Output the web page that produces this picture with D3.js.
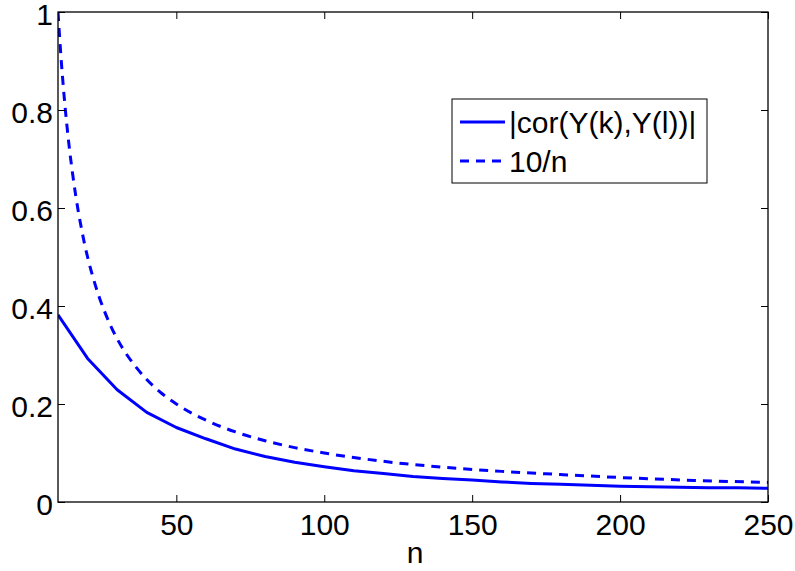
<!DOCTYPE html>
<html><head><meta charset="utf-8">
<script src="https://cdn.jsdelivr.net/npm/d3@7"></script>
<style>html,body{margin:0;padding:0;background:#fff;}svg{display:block;font-family:"Liberation Sans",Arial,Helvetica,sans-serif;}</style>
</head><body>
<script>
// n values for the |cor| series
const nCor = [10,20,30,40,50,60,70,80,90,100,110,120,130,140,150,160,170,180,190,200,210,220,230,240,250];
const corValues = [0.382,0.293,0.229,0.183,0.152,0.129,0.108,0.093,0.081,0.072,0.064,0.058,0.052,0.048,0.045,0.041,0.038,0.036,0.034,0.032,0.031,0.030,0.029,0.029,0.028];
// n values for the 10/n series
const nRef = [10,11,12,13,14,15,16,17,18,19,20,22,24,26,28,30,33,36,40,45,50,60,70,80,90,100,120,140,160,180,200,225,250];
const refValues = [1,0.909,0.833,0.769,0.714,0.667,0.625,0.588,0.556,0.526,0.5,0.455,0.417,0.385,0.357,0.333,0.303,0.278,0.25,0.222,0.2,0.167,0.143,0.125,0.111,0.1,0.083,0.071,0.0625,0.056,0.05,0.044,0.04];
const xTicks = [50,100,150,200,250];
const yTicks = [0,0.2,0.4,0.6,0.8,1];
const yTickLabels = ["0","0.2","0.4","0.6","0.8","1"];
const legendLabels = ["|cor(Y(k),Y(l))|","10/n"];
const xLabel = "n";

const W = 795, H = 571;
const L = 58, R = 768, T = 12, B = 502;
const svg = d3.select("body").append("svg").attr("width", W).attr("height", H);
const x = d3.scaleLinear().domain([10,250]).range([L,R]);
const y = d3.scaleLinear().domain([0,1]).range([B,T]);
const FS = 30;

svg.append("clipPath").attr("id","clip").append("rect").attr("x",L).attr("y",T).attr("width",R-L).attr("height",B-T);

const g = svg.append("g").attr("clip-path","url(#clip)");
g.append("path").datum(nRef.map((n,i)=>[n,refValues[i]]))
  .attr("d", d3.line().x(d=>x(d[0])).y(d=>y(d[1])).curve(d3.curveMonotoneX))
  .attr("fill","none").attr("stroke","#0000ff").attr("stroke-width",3).attr("stroke-dasharray","9,7");
g.append("path").datum(nCor.map((n,i)=>[n,corValues[i]]))
  .attr("d", d3.line().x(d=>x(d[0])).y(d=>y(d[1])))
  .attr("fill","none").attr("stroke","#0000ff").attr("stroke-width",3).attr("stroke-linejoin","round");

// axes with inward ticks
const tl = 7;
const axB = svg.append("g").attr("transform",`translate(0,${B})`)
  .call(d3.axisBottom(x).tickValues(xTicks).tickSize(-tl).tickPadding(12).tickFormat(d3.format("d")));
const axT = svg.append("g").attr("transform",`translate(0,${T})`)
  .call(d3.axisTop(x).tickValues(xTicks).tickSize(-tl).tickFormat(""));
const axL = svg.append("g").attr("transform",`translate(${L},0)`)
  .call(d3.axisLeft(y).tickValues(yTicks).tickSize(-tl).tickPadding(5).tickFormat((d,i)=>yTickLabels[i]));
const axR = svg.append("g").attr("transform",`translate(${R},0)`)
  .call(d3.axisRight(y).tickValues(yTicks).tickSize(-tl).tickFormat(""));
[axB,axT,axL,axR].forEach(a=>{
  a.select(".domain").remove();
  a.selectAll("line").attr("stroke","#000").attr("stroke-width",1);
  a.selectAll("text").attr("fill","#000").style("font-size",FS+"px").style("font-family","'Liberation Sans',Arial,sans-serif");
});
axB.selectAll("text").attr("dy","0.71em");
axL.selectAll("text").attr("dy","0.4em");
svg.append("rect").attr("x",L).attr("y",T).attr("width",R-L).attr("height",B-T)
  .attr("fill","none").attr("stroke","#000").attr("stroke-width",1.3);

svg.append("text").attr("x",(L+R)/2 + 2).attr("y",563).attr("text-anchor","middle")
  .style("font-size",FS+"px").text(xLabel);

// legend
const lg = svg.append("g");
lg.append("rect").attr("x",452).attr("y",99).attr("width",255).attr("height",84)
  .attr("fill","#fff").attr("stroke","#000").attr("stroke-width",1);
const rows = [{dash:null, y:122},{dash:"9,7", y:161}];
rows.forEach((r,i)=>{
  lg.append("line").attr("x1",460).attr("x2",505).attr("y1",r.y).attr("y2",r.y)
    .attr("stroke","#0000ff").attr("stroke-width",3).attr("stroke-dasharray",r.dash);
  lg.append("text").attr("x",509).attr("y",r.y).attr("dy","0.37em").style("font-size",FS+"px").text(legendLabels[i]);
});
</script>
</body></html>
